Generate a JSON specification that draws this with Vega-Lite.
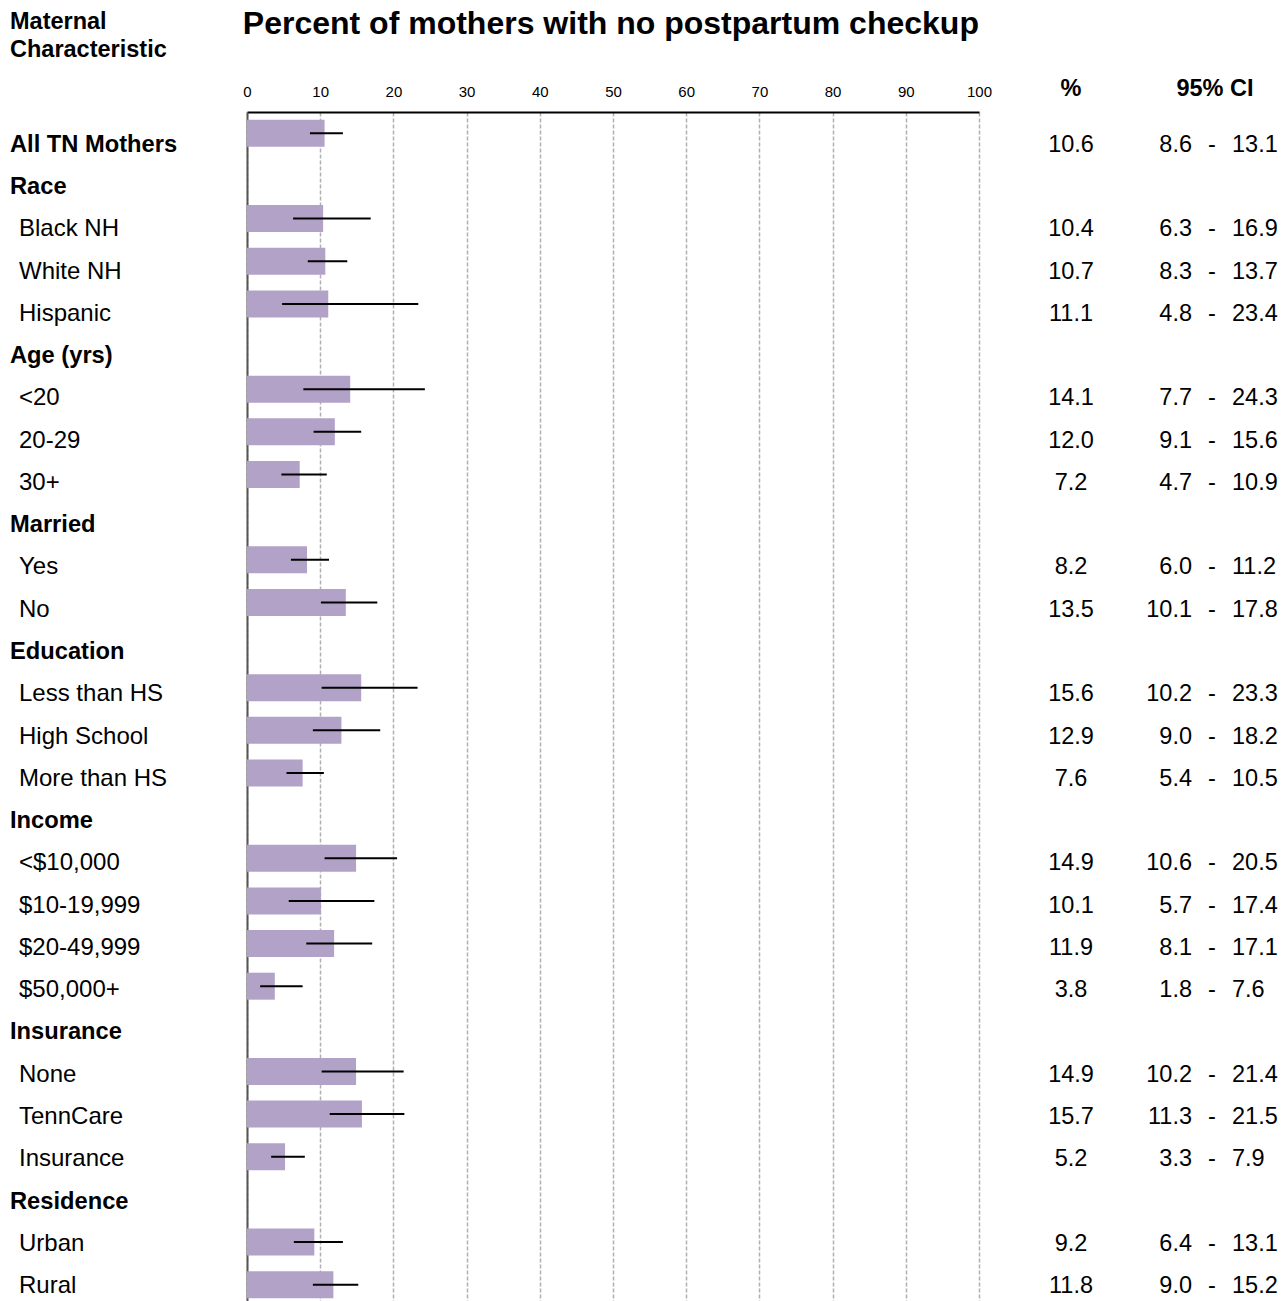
{
  "$schema": "https://vega.github.io/schema/vega-lite/v6.json",
  "autosize": {"type": "pad"},
  "padding": {"top": 8, "left": 0, "right": 0, "bottom": 0},
  "background": "white",
  "spacing": 0,
  "bounds": "flush",
  "data": {
    "values": [
      {"row": 1, "label": "All TN Mothers", "kind": "header", "pct": 10.6, "lo": 8.6, "hi": 13.1},
      {"row": 2, "label": "Race", "kind": "header", "pct": null, "lo": null, "hi": null},
      {"row": 3, "label": "Black NH", "kind": "item", "pct": 10.4, "lo": 6.3, "hi": 16.9},
      {"row": 4, "label": "White NH", "kind": "item", "pct": 10.7, "lo": 8.3, "hi": 13.7},
      {"row": 5, "label": "Hispanic", "kind": "item", "pct": 11.1, "lo": 4.8, "hi": 23.4},
      {"row": 6, "label": "Age (yrs)", "kind": "header", "pct": null, "lo": null, "hi": null},
      {"row": 7, "label": "<20", "kind": "item", "pct": 14.1, "lo": 7.7, "hi": 24.3},
      {"row": 8, "label": "20-29", "kind": "item", "pct": 12.0, "lo": 9.1, "hi": 15.6},
      {"row": 9, "label": "30+", "kind": "item", "pct": 7.2, "lo": 4.7, "hi": 10.9},
      {"row": 10, "label": "Married", "kind": "header", "pct": null, "lo": null, "hi": null},
      {"row": 11, "label": "Yes", "kind": "item", "pct": 8.2, "lo": 6.0, "hi": 11.2},
      {"row": 12, "label": "No", "kind": "item", "pct": 13.5, "lo": 10.1, "hi": 17.8},
      {"row": 13, "label": "Education", "kind": "header", "pct": null, "lo": null, "hi": null},
      {"row": 14, "label": "Less than HS", "kind": "item", "pct": 15.6, "lo": 10.2, "hi": 23.3},
      {"row": 15, "label": "High School", "kind": "item", "pct": 12.9, "lo": 9.0, "hi": 18.2},
      {"row": 16, "label": "More than HS", "kind": "item", "pct": 7.6, "lo": 5.4, "hi": 10.5},
      {"row": 17, "label": "Income", "kind": "header", "pct": null, "lo": null, "hi": null},
      {"row": 18, "label": "<$10,000", "kind": "item", "pct": 14.9, "lo": 10.6, "hi": 20.5},
      {"row": 19, "label": "$10-19,999", "kind": "item", "pct": 10.1, "lo": 5.7, "hi": 17.4},
      {"row": 20, "label": "$20-49,999", "kind": "item", "pct": 11.9, "lo": 8.1, "hi": 17.1},
      {"row": 21, "label": "$50,000+", "kind": "item", "pct": 3.8, "lo": 1.8, "hi": 7.6},
      {"row": 22, "label": "Insurance", "kind": "header", "pct": null, "lo": null, "hi": null},
      {"row": 23, "label": "None", "kind": "item", "pct": 14.9, "lo": 10.2, "hi": 21.4},
      {"row": 24, "label": "TennCare", "kind": "item", "pct": 15.7, "lo": 11.3, "hi": 21.5},
      {"row": 25, "label": "Insurance", "kind": "item", "pct": 5.2, "lo": 3.3, "hi": 7.9},
      {"row": 26, "label": "Residence", "kind": "header", "pct": null, "lo": null, "hi": null},
      {"row": 27, "label": "Urban", "kind": "item", "pct": 9.2, "lo": 6.4, "hi": 13.1},
      {"row": 28, "label": "Rural", "kind": "item", "pct": 11.8, "lo": 9.0, "hi": 15.2}
    ]
  },
  "resolve": {"scale": {"y": "independent", "x": "independent"}},
  "hconcat": [
    {
      "width": 247,
      "height": 1194,
      "title": {"text": ["Maternal", "Characteristic"], "anchor": "start", "dx": 10, "fontSize": 23.5, "fontWeight": "bold", "lineHeight": 28, "offset": 51, "color": "black"},
      "layer": [
        {
          "transform": [{"filter": "datum.kind == 'header'"}],
          "mark": {"type": "text", "align": "left", "fontSize": 23.7, "fontWeight": "bold", "color": "black"},
          "encoding": {
            "y": {"field": "row", "type": "ordinal", "axis": null, "scale": {"domain": [1,2,3,4,5,6,7,8,9,10,11,12,13,14,15,16,17,18,19,20,21,22,23,24,25,26,27,28], "range": [11.6, 1195.2], "paddingInner": 0, "paddingOuter": 0}},
            "x": {"field": "kind", "type": "nominal", "axis": null, "scale": {"type": "point", "domain": ["header", "item"], "range": [10, 19], "padding": 0}},
            "text": {"field": "label", "type": "nominal"}
          }
        },
        {
          "transform": [{"filter": "datum.kind == 'item'"}],
          "mark": {"type": "text", "align": "left", "fontSize": 24, "color": "black"},
          "encoding": {
            "y": {"field": "row", "type": "ordinal", "axis": null},
            "x": {"field": "kind", "type": "nominal", "axis": null},
            "text": {"field": "label", "type": "nominal"}
          }
        }
      ]
    },
    {
      "width": 732,
      "height": 1194,
      "title": {"text": "Percent of mothers with no postpartum checkup", "anchor": "start", "dx": 0, "fontSize": 32, "fontWeight": "bold", "offset": 43, "color": "black"},
      "transform": [{"filter": "datum.pct != null"}],
      "layer": [
        {
          "mark": {"type": "bar", "color": "#b2a2c8"},
          "encoding": {
            "y": {"field": "row", "type": "ordinal", "scale": {"domain": [1,2,3,4,5,6,7,8,9,10,11,12,13,14,15,16,17,18,19,20,21,22,23,24,25,26,27,28], "paddingInner": 0.367, "paddingOuter": 0.1835},
                  "axis": {"orient": "left", "title": null, "labels": false, "ticks": false, "grid": false, "domain": true, "domainColor": "#555555", "domainWidth": 2}},
            "x": {"field": "pct", "type": "quantitative", "scale": {"domain": [0, 100], "nice": false},
                  "axis": {"orient": "top", "title": null, "values": [0,10,20,30,40,50,60,70,80,90,100], "labelFontSize": 15, "labelColor": "black", "labelFlush": false, "ticks": false, "tickSize": 0, "labelPadding": 13, "domain": true, "domainColor": "black", "domainWidth": 2, "grid": true, "gridColor": "#b0b0b0", "gridDash": [4, 2], "gridWidth": 1.5}}
          }
        },
        {
          "mark": {"type": "rule", "color": "black", "strokeWidth": 2},
          "encoding": {
            "y": {"field": "row", "type": "ordinal"},
            "x": {"field": "lo", "type": "quantitative"},
            "x2": {"field": "hi"}
          }
        }
      ]
    },
    {
      "width": 184,
      "height": 1194,
      "title": {"text": "%", "anchor": "middle", "fontSize": 23.5, "fontWeight": "bold", "offset": 12, "color": "black"},
      "transform": [{"filter": "datum.pct != null"}],
      "mark": {"type": "text", "fontSize": 23.5, "color": "black"},
      "encoding": {
        "y": {"field": "row", "type": "ordinal", "axis": null, "scale": {"domain": [1,2,3,4,5,6,7,8,9,10,11,12,13,14,15,16,17,18,19,20,21,22,23,24,25,26,27,28], "range": [11.6, 1195.2], "paddingInner": 0, "paddingOuter": 0}},
        "text": {"field": "pct", "type": "quantitative", "format": ".1f"}
      }
    },
    {
      "width": 98,
      "height": 1194,
      "title": {"text": "95% CI", "anchor": "middle", "dx": 3, "fontSize": 23.5, "fontWeight": "bold", "offset": 12, "color": "black"},
      "transform": [{"filter": "datum.lo != null"}],
      "layer": [
        {
          "mark": {"type": "text", "align": "right", "dx": -20, "fontSize": 23.5, "color": "black"},
          "encoding": {
            "y": {"field": "row", "type": "ordinal", "axis": null, "scale": {"domain": [1,2,3,4,5,6,7,8,9,10,11,12,13,14,15,16,17,18,19,20,21,22,23,24,25,26,27,28], "range": [11.6, 1195.2], "paddingInner": 0, "paddingOuter": 0}},
            "text": {"field": "lo", "type": "quantitative", "format": ".1f"}
          }
        },
        {
          "mark": {"type": "text", "text": "-", "fontSize": 23.5, "color": "black"},
          "encoding": {
            "y": {"field": "row", "type": "ordinal", "axis": null}
          }
        },
        {
          "mark": {"type": "text", "align": "left", "dx": 20, "fontSize": 23.5, "color": "black"},
          "encoding": {
            "y": {"field": "row", "type": "ordinal", "axis": null},
            "text": {"field": "hi", "type": "quantitative", "format": ".1f"}
          }
        }
      ]
    }
  ],
  "config": {
    "font": "Liberation Sans",
    "view": {"stroke": null},
    "axis": {"labelFont": "Liberation Sans"},
    "title": {"font": "Liberation Sans"}
  }
}
